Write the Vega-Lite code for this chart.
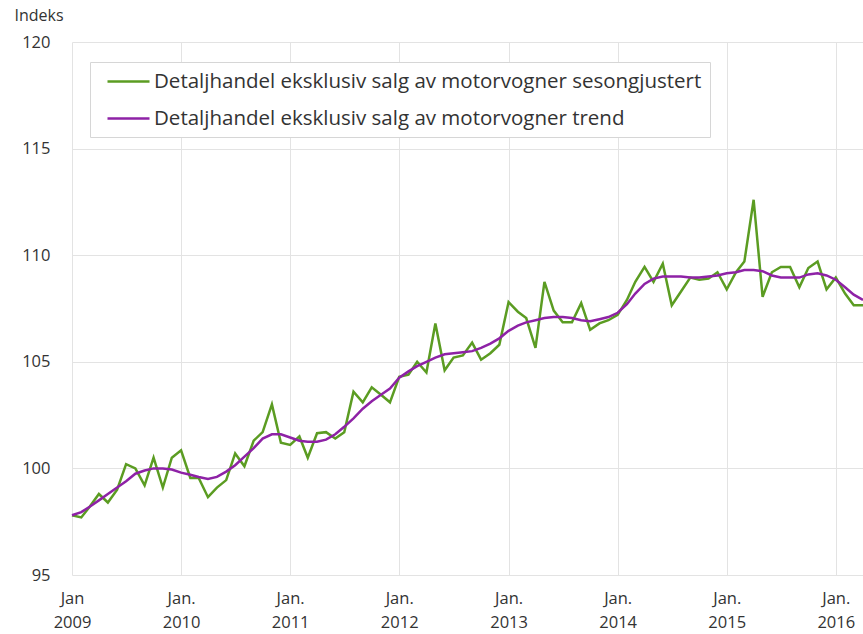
{
  "$schema": "https://vega.github.io/schema/vega-lite/v6.json",
  "width": 791,
  "height": 533,
  "autosize": {"type": "none"},
  "padding": {"left": 72, "top": 42, "right": 0, "bottom": 59},
  "background": "white",
  "config": {
    "view": {"stroke": null},
    "font": "Open Sans",
    "axis": {"gridColor": "#e3e3e3", "gridWidth": 1, "domain": false, "ticks": false, "labelColor": "#333333", "labelFont": "Open Sans", "labelFontSize": 16.5},
    "legend": {
      "orient": "none", "legendX": 18, "legendY": 20, "direction": "vertical",
      "strokeColor": "#d6d6d6", "fillColor": "white", "padding": 8,
      "labelFont": "Open Sans", "labelFontSize": 20.5, "labelColor": "#333333", "labelLimit": 800,
      "symbolType": "M-0.2,0H4", "symbolSize": 400, "symbolStrokeWidth": 2.5, "labelOffset": 33, "rowPadding": 15
    }
  },
  "data": {
    "values": [
      {"date": "2009-01", "sa": 97.8, "trend": 97.8},
      {"date": "2009-02", "sa": 97.7, "trend": 97.95},
      {"date": "2009-03", "sa": 98.2, "trend": 98.2},
      {"date": "2009-04", "sa": 98.8, "trend": 98.5},
      {"date": "2009-05", "sa": 98.4, "trend": 98.8},
      {"date": "2009-06", "sa": 99.0, "trend": 99.1},
      {"date": "2009-07", "sa": 100.2, "trend": 99.4},
      {"date": "2009-08", "sa": 100.0, "trend": 99.75},
      {"date": "2009-09", "sa": 99.2, "trend": 99.9},
      {"date": "2009-10", "sa": 100.5, "trend": 100.0},
      {"date": "2009-11", "sa": 99.1, "trend": 100.0},
      {"date": "2009-12", "sa": 100.5, "trend": 99.95},
      {"date": "2010-01", "sa": 100.85, "trend": 99.8},
      {"date": "2010-02", "sa": 99.55, "trend": 99.7},
      {"date": "2010-03", "sa": 99.55, "trend": 99.6},
      {"date": "2010-04", "sa": 98.65, "trend": 99.5},
      {"date": "2010-05", "sa": 99.1, "trend": 99.6},
      {"date": "2010-06", "sa": 99.45, "trend": 99.85},
      {"date": "2010-07", "sa": 100.7, "trend": 100.15},
      {"date": "2010-08", "sa": 100.1, "trend": 100.55},
      {"date": "2010-09", "sa": 101.3, "trend": 100.95},
      {"date": "2010-10", "sa": 101.7, "trend": 101.4},
      {"date": "2010-11", "sa": 103.0, "trend": 101.6},
      {"date": "2010-12", "sa": 101.2, "trend": 101.6},
      {"date": "2011-01", "sa": 101.1, "trend": 101.45},
      {"date": "2011-02", "sa": 101.5, "trend": 101.3},
      {"date": "2011-03", "sa": 100.5, "trend": 101.25},
      {"date": "2011-04", "sa": 101.65, "trend": 101.25},
      {"date": "2011-05", "sa": 101.7, "trend": 101.35},
      {"date": "2011-06", "sa": 101.4, "trend": 101.6},
      {"date": "2011-07", "sa": 101.7, "trend": 101.95},
      {"date": "2011-08", "sa": 103.6, "trend": 102.35},
      {"date": "2011-09", "sa": 103.1, "trend": 102.8},
      {"date": "2011-10", "sa": 103.8, "trend": 103.15},
      {"date": "2011-11", "sa": 103.45, "trend": 103.45},
      {"date": "2011-12", "sa": 103.1, "trend": 103.75},
      {"date": "2012-01", "sa": 104.3, "trend": 104.25},
      {"date": "2012-02", "sa": 104.4, "trend": 104.55},
      {"date": "2012-03", "sa": 105.0, "trend": 104.8},
      {"date": "2012-04", "sa": 104.5, "trend": 105.0},
      {"date": "2012-05", "sa": 106.8, "trend": 105.2},
      {"date": "2012-06", "sa": 104.6, "trend": 105.35},
      {"date": "2012-07", "sa": 105.2, "trend": 105.4},
      {"date": "2012-08", "sa": 105.3, "trend": 105.45},
      {"date": "2012-09", "sa": 105.9, "trend": 105.5},
      {"date": "2012-10", "sa": 105.1, "trend": 105.65},
      {"date": "2012-11", "sa": 105.4, "trend": 105.85},
      {"date": "2012-12", "sa": 105.8, "trend": 106.1},
      {"date": "2013-01", "sa": 107.8, "trend": 106.45},
      {"date": "2013-02", "sa": 107.35, "trend": 106.7},
      {"date": "2013-03", "sa": 107.05, "trend": 106.85},
      {"date": "2013-04", "sa": 105.65, "trend": 106.95},
      {"date": "2013-05", "sa": 108.75, "trend": 107.05},
      {"date": "2013-06", "sa": 107.4, "trend": 107.1},
      {"date": "2013-07", "sa": 106.85, "trend": 107.1},
      {"date": "2013-08", "sa": 106.85, "trend": 107.05},
      {"date": "2013-09", "sa": 107.75, "trend": 106.95},
      {"date": "2013-10", "sa": 106.5, "trend": 106.9},
      {"date": "2013-11", "sa": 106.8, "trend": 107.0},
      {"date": "2013-12", "sa": 106.95, "trend": 107.1},
      {"date": "2014-01", "sa": 107.2, "trend": 107.3},
      {"date": "2014-02", "sa": 107.9, "trend": 107.7},
      {"date": "2014-03", "sa": 108.75, "trend": 108.2},
      {"date": "2014-04", "sa": 109.45, "trend": 108.65},
      {"date": "2014-05", "sa": 108.75, "trend": 108.9},
      {"date": "2014-06", "sa": 109.6, "trend": 109.0},
      {"date": "2014-07", "sa": 107.65, "trend": 109.0},
      {"date": "2014-08", "sa": 108.3, "trend": 109.0},
      {"date": "2014-09", "sa": 108.95, "trend": 108.95},
      {"date": "2014-10", "sa": 108.85, "trend": 108.95},
      {"date": "2014-11", "sa": 108.9, "trend": 109.0},
      {"date": "2014-12", "sa": 109.2, "trend": 109.05},
      {"date": "2015-01", "sa": 108.4, "trend": 109.15},
      {"date": "2015-02", "sa": 109.2, "trend": 109.2},
      {"date": "2015-03", "sa": 109.7, "trend": 109.3},
      {"date": "2015-04", "sa": 112.6, "trend": 109.3},
      {"date": "2015-05", "sa": 108.05, "trend": 109.25},
      {"date": "2015-06", "sa": 109.2, "trend": 109.05},
      {"date": "2015-07", "sa": 109.45, "trend": 108.95},
      {"date": "2015-08", "sa": 109.45, "trend": 108.95},
      {"date": "2015-09", "sa": 108.5, "trend": 108.95},
      {"date": "2015-10", "sa": 109.4, "trend": 109.1},
      {"date": "2015-11", "sa": 109.7, "trend": 109.15},
      {"date": "2015-12", "sa": 108.4, "trend": 109.05},
      {"date": "2016-01", "sa": 108.95, "trend": 108.85},
      {"date": "2016-02", "sa": 108.2, "trend": 108.5},
      {"date": "2016-03", "sa": 107.65, "trend": 108.15},
      {"date": "2016-04", "sa": 107.65, "trend": 107.9}
    ],
    "format": {"parse": {"date": "utc:'%Y-%m'"}}
  },
  "encoding": {
    "x": {
      "field": "date", "type": "temporal",
      "scale": {"type": "utc", "domain": [{"year": 2009, "month": 1, "date": 1, "utc": true}, {"year": 2016, "month": 4, "date": 1, "utc": true}]},
      "axis": {
        "title": null,
        "values": [
          {"year": 2009, "month": 1, "date": 1, "utc": true},
          {"year": 2010, "month": 1, "date": 1, "utc": true},
          {"year": 2011, "month": 1, "date": 1, "utc": true},
          {"year": 2012, "month": 1, "date": 1, "utc": true},
          {"year": 2013, "month": 1, "date": 1, "utc": true},
          {"year": 2014, "month": 1, "date": 1, "utc": true},
          {"year": 2015, "month": 1, "date": 1, "utc": true},
          {"year": 2016, "month": 1, "date": 1, "utc": true}
        ],
        "labelExpr": "[utcyear(datum.value) == 2009 ? 'Jan' : 'Jan.', utcFormat(datum.value, '%Y')]",
        "labelPadding": 15, "labelLineHeight": 24, "labelFlush": false, "labelOverlap": false
      }
    },
    "color": {
      "type": "nominal",
      "scale": {
        "domain": ["Detaljhandel eksklusiv salg av motorvogner sesongjustert", "Detaljhandel eksklusiv salg av motorvogner trend"],
        "range": ["#5b9c22", "#8e22a6"]
      },
      "legend": {"title": null}
    }
  },
  "layer": [
    {
      "mark": {"type": "line", "strokeWidth": 2.5},
      "encoding": {
        "y": {
          "field": "sa", "type": "quantitative",
          "scale": {"domain": [95, 120], "nice": false, "zero": false},
          "axis": {
            "values": [95, 100, 105, 110, 115, 120],
            "title": "Indeks", "titleAngle": 0, "titleX": -58, "titleY": -27,
            "titleAlign": "left", "titleBaseline": "middle", "titleFont": "Open Sans",
            "titleFontWeight": "normal", "titleFontSize": 16, "titleColor": "#333333",
            "labelPadding": 22
          }
        },
        "color": {"datum": "Detaljhandel eksklusiv salg av motorvogner sesongjustert"}
      }
    },
    {
      "mark": {"type": "line", "strokeWidth": 2.5},
      "encoding": {
        "y": {"field": "trend", "type": "quantitative"},
        "color": {"datum": "Detaljhandel eksklusiv salg av motorvogner trend"}
      }
    }
  ]
}
